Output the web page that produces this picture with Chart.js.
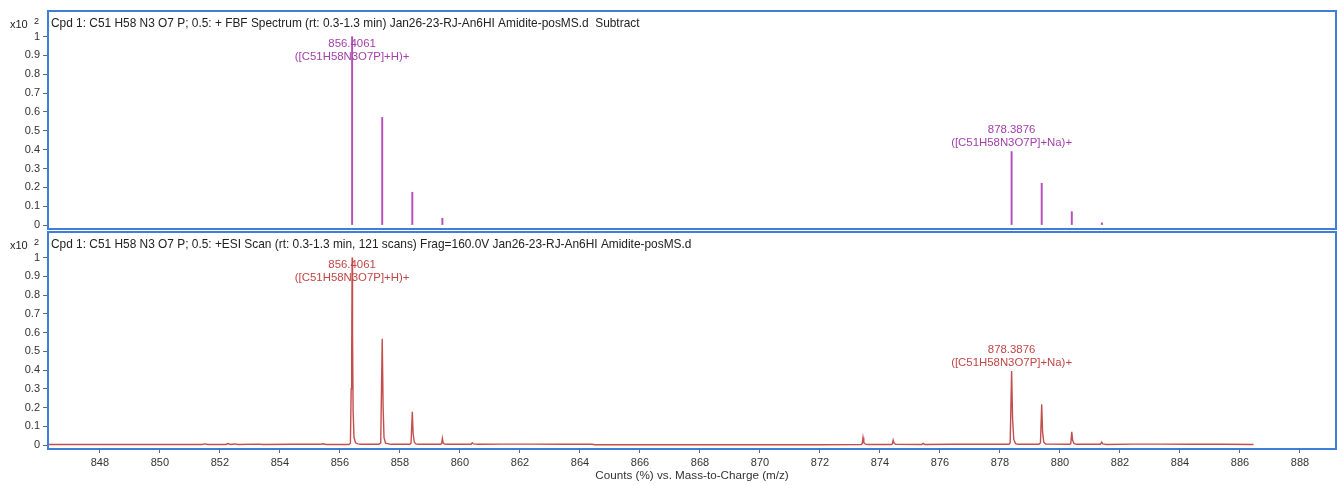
<!DOCTYPE html>
<html>
<head>
<meta charset="utf-8">
<script src="https://cdn.jsdelivr.net/npm/chart.js@4.4.1/dist/chart.umd.min.js"></script>
<style>
  body { margin: 0; background: #fff; width: 1337px; height: 485px; overflow: hidden; position: relative; }
  canvas { position: absolute; left: 0; }
  #top { top: 0; }
  #bot { top: 230px; }
</style>
</head>
<body>
<canvas id="top" width="1337" height="231"></canvas>
<canvas id="bot" width="1337" height="255"></canvas>
<script>
const FONT = '"Liberation Sans", Arial, sans-serif';

// axes
const xMin = 846.27, xMax = 889.2;
const xTicks = [848, 850, 852, 854, 856, 858, 860, 862, 864, 866, 868, 870, 872, 874, 876, 878, 880, 882, 884, 886, 888];
const yTicks = [0, 0.1, 0.2, 0.3, 0.4, 0.5, 0.6, 0.7, 0.8, 0.9, 1];

// top panel: FBF spectrum sticks
const stickMz  = [856.4061, 857.4095, 858.4125, 859.415, 878.3876, 879.391, 880.394, 881.397];
const stickInt = [1.0, 0.571, 0.174, 0.036, 0.39, 0.222, 0.071, 0.012];

// bottom panel: ESI scan profile
const profMz = [
  846.30, 848.00, 850.00, 851.40, 851.50, 851.60, 852.20, 852.27, 852.35, 852.50, 852.60,
  853.30, 853.45, 854.40, 855.35, 855.42, 855.55,
  856.30, 856.35, 856.375, 856.39, 856.395, 856.407, 856.42, 856.44, 856.47, 856.52, 856.60, 856.70,
  857.30, 857.36, 857.41, 857.44, 857.47, 857.52, 857.70,
  858.33, 858.37, 858.413, 858.44, 858.48, 858.53, 858.60,
  859.36, 859.39, 859.415, 859.44, 859.49, 859.60,
  860.37, 860.41, 860.45, 860.60, 861.40, 862.40, 863.50, 864.40, 864.50,
  866.00, 868.00, 870.00, 872.00,
  873.38, 873.41, 873.435, 873.46, 873.51, 873.60,
  874.39, 874.415, 874.44, 874.47, 874.52, 875.39, 875.44, 875.50, 876.40, 877.40,
  878.30, 878.34, 878.388, 878.42, 878.46, 878.52, 878.60,
  879.30, 879.35, 879.391, 879.42, 879.46, 879.52,
  880.33, 880.36, 880.394, 880.42, 880.47, 880.55,
  881.35, 881.39, 881.43, 881.55, 882.40, 883.40, 884.40, 885.50, 886.45
];
const profInt = [
  0.003, 0.003, 0.003, 0.003, 0.006, 0.003, 0.003, 0.008, 0.003, 0.006, 0.003,
  0.005, 0.003, 0.004, 0.004, 0.007, 0.003,
  0.003, 0.01, 0.3, 0.47, 0.5, 1.0, 0.6, 0.18, 0.04, 0.012, 0.006, 0.004,
  0.004, 0.012, 0.567, 0.2, 0.04, 0.01, 0.004,
  0.004, 0.01, 0.177, 0.06, 0.015, 0.006, 0.004,
  0.004, 0.008, 0.036, 0.012, 0.005, 0.004,
  0.004, 0.012, 0.006, 0.004, 0.005, 0.005, 0.004, 0.004, 0.002,
  0.002, 0.002, 0.002, 0.002,
  0.003, 0.008, 0.04, 0.014, 0.005, 0.003,
  0.003, 0.007, 0.026, 0.01, 0.004, 0.003, 0.009, 0.003, 0.004, 0.004,
  0.004, 0.012, 0.395, 0.14, 0.03, 0.008, 0.004,
  0.004, 0.012, 0.218, 0.07, 0.015, 0.006,
  0.004, 0.008, 0.07, 0.025, 0.008, 0.004,
  0.004, 0.016, 0.006, 0.003, 0.005, 0.005, 0.004, 0.004, 0.003
];

// peak annotations
const annMz = [856.4061, 878.3876];
const annInt = [1.0, 0.39];
const annLine1 = ['856.4061', '878.3876'];
const annLine2 = ['([C51H58N3O7P]+H)+', '([C51H58N3O7P]+Na)+'];

const topTitle = 'Cpd 1: C51 H58 N3 O7 P; 0.5: + FBF Spectrum (rt: 0.3-1.3 min) Jan26-23-RJ-An6HI Amidite-posMS.d  Subtract';
const botTitle = 'Cpd 1: C51 H58 N3 O7 P; 0.5: +ESI Scan (rt: 0.3-1.3 min, 121 scans) Frag=160.0V Jan26-23-RJ-An6HI Amidite-posMS.d';

function deco(title, color) {
  return {
    id: 'deco',
    afterDraw(chart) {
      const { ctx, chartArea: a, scales: { x, y } } = chart;
      ctx.save();
      ctx.textBaseline = 'middle';
      ctx.fillStyle = '#222';
      ctx.font = '11.9px ' + FONT;
      ctx.textAlign = 'left';
      ctx.fillText(title, a.left + 3, a.top + 13);
      ctx.font = '11px ' + FONT;
      ctx.fillText('x10', 10, a.top + 14);
      ctx.font = '9px ' + FONT;
      ctx.fillText('2', 34, a.top + 11);

      // peak labels
      ctx.font = '11.4px ' + FONT;
      ctx.fillStyle = color;
      ctx.textAlign = 'center';
      annMz.forEach((m, i) => {
        const px = x.getPixelForValue(m);
        const l2 = Math.max(y.getPixelForValue(annInt[i]) - 9, a.top + 46);
        ctx.fillText(annLine1[i], px, l2 - 13);
        ctx.fillText(annLine2[i], px, l2);
      });

      ctx.strokeStyle = '#3f7fd8';
      ctx.lineWidth = 2;
      ctx.strokeRect(a.left, a.top, a.right - a.left, a.bottom - a.top);
      ctx.restore();
    }
  };
}

function yAxis() {
  return {
    min: -0.021, max: 1.136,
    afterFit(s) { s.width = 48; s.paddingTop = 0; s.paddingBottom = 0; },
    afterBuildTicks(s) { s.ticks = yTicks.map(v => ({ value: v })); },
    grid: { drawOnChartArea: false, drawTicks: true, tickLength: 5, color: '#666' },
    border: { display: false },
    ticks: { font: { family: FONT, size: 11 }, color: '#333', padding: 3, autoSkip: false,
             callback: v => String(+v.toFixed(1)) }
  };
}

new Chart(document.getElementById('top'), {
  type: 'bar',
  data: {
    datasets: [{
      data: stickMz.map((m, i) => ({ x: m, y: stickInt[i] })),
      backgroundColor: '#b550bb',
      borderWidth: 0,
      barThickness: 1.3
    }]
  },
  options: {
    responsive: false, animation: false,
    layout: { padding: { top: 11, bottom: 2, left: 0, right: 1 } },
    plugins: { legend: { display: false }, tooltip: { enabled: false } },
    scales: {
      x: { type: 'linear', min: xMin, max: xMax, offset: false, display: false, grid: { offset: false } },
      y: yAxis()
    }
  },
  plugins: [deco(topTitle, '#a23fa8')]
});

new Chart(document.getElementById('bot'), {
  type: 'line',
  data: {
    datasets: [{
      data: profMz.map((m, i) => ({ x: m, y: profInt[i] })),
      borderColor: '#c44e4e',
      borderWidth: 1.4,
      pointRadius: 0,
      tension: 0
    }]
  },
  options: {
    responsive: false, animation: false,
    layout: { padding: { top: 2, bottom: 0, left: 0, right: 1 } },
    plugins: { legend: { display: false }, tooltip: { enabled: false } },
    scales: {
      x: {
        type: 'linear', min: xMin, max: xMax, offset: false,
        afterFit(s) { s.height = 36; s.paddingLeft = 0; s.paddingRight = 0; },
        afterBuildTicks(s) { s.ticks = xTicks.map(v => ({ value: v })); },
        grid: { drawOnChartArea: false, tickLength: 4, color: '#666', offset: false },
        border: { display: false },
        ticks: { font: { family: FONT, size: 11 }, color: '#333', padding: 3, maxRotation: 0, autoSkip: false },
        title: { display: true, text: 'Counts (%) vs. Mass-to-Charge (m/z)',
                 font: { family: FONT, size: 11.7 }, color: '#333', padding: { top: 0, bottom: 2 } }
      },
      y: yAxis()
    }
  },
  plugins: [deco(botTitle, '#c04646')]
});
</script>
</body>
</html>
